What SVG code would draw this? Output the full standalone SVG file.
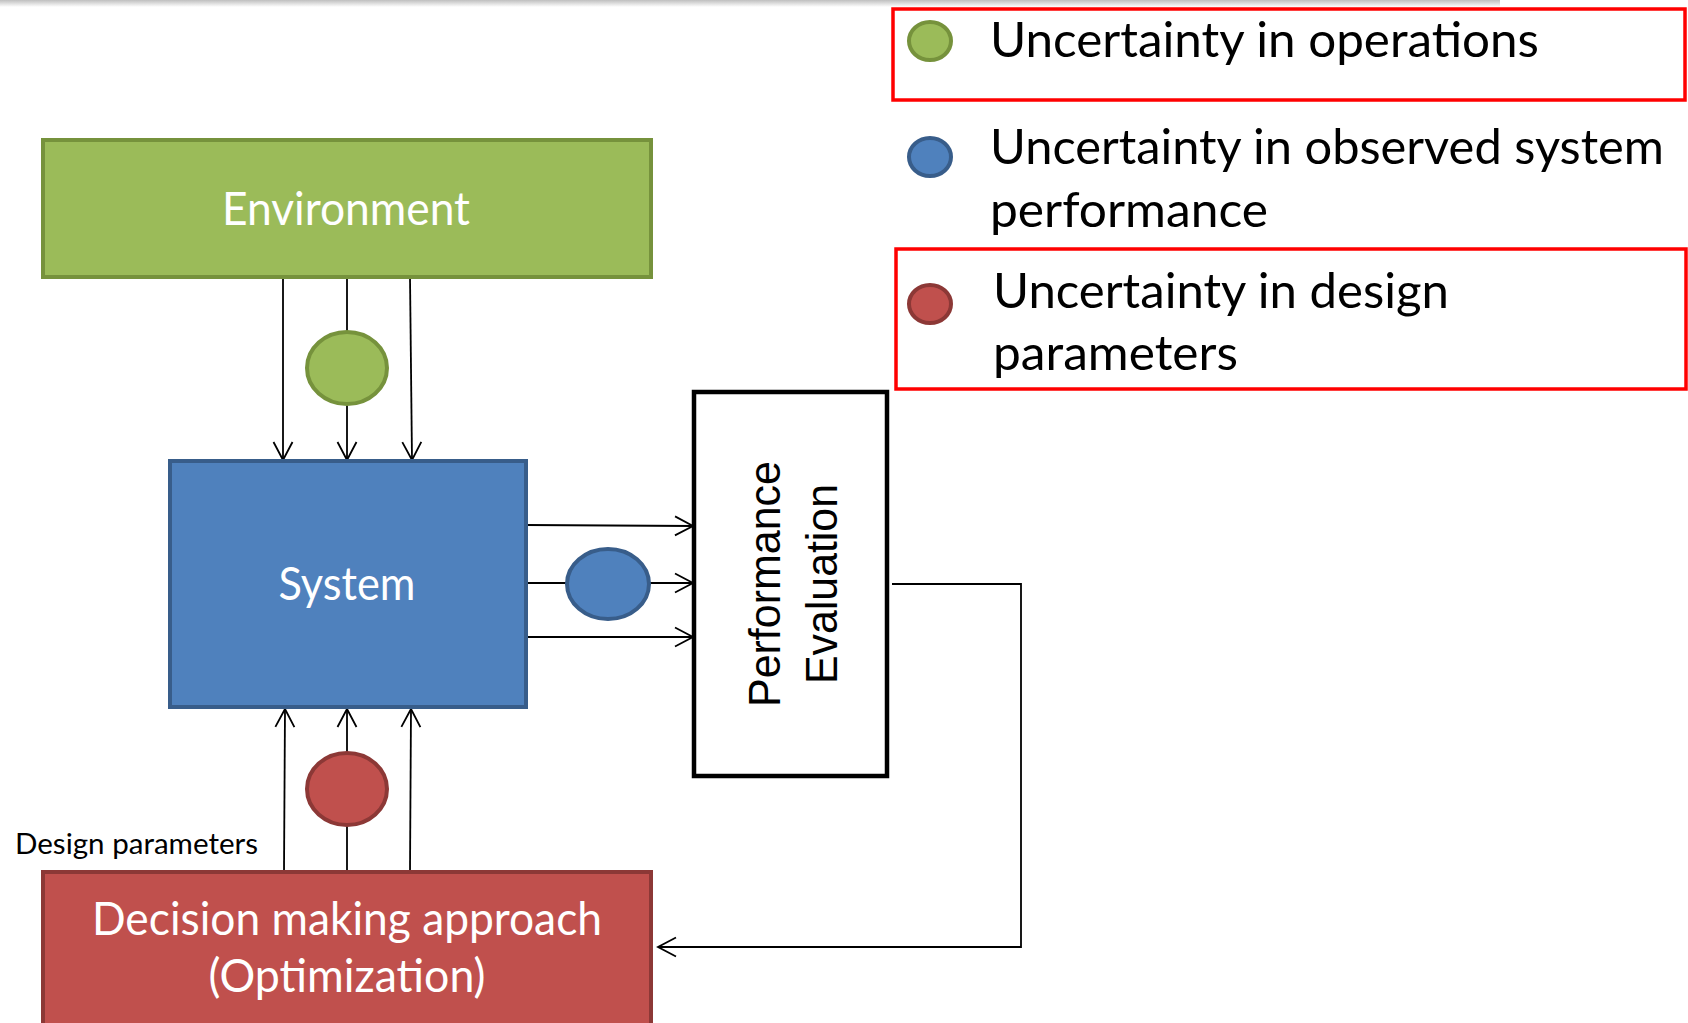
<svg xmlns="http://www.w3.org/2000/svg" width="1688" height="1023" viewBox="0 0 1688 1023">
<style>
.cal{font-family:Lato,"Open Sans","Liberation Sans",sans-serif;}
.wt{fill:#FFFFFF;text-anchor:middle;}
.bk{fill:#000000;}
.conn{stroke:#000000;stroke-width:1.8;fill:none;}
.leg{fill:none;stroke:#FF0000;stroke-width:3.5;}
</style>
<defs>
<marker id="ah" viewBox="-20 -12 24 24" markerWidth="24" markerHeight="24" refX="0" refY="0" orient="auto" markerUnits="userSpaceOnUse">
<path d="M-18,-9.5 L0,0 L-18,9.5" fill="none" stroke="#000" stroke-width="1.8"/>
</marker>
<linearGradient id="topg" x1="0" y1="0" x2="0" y2="1">
<stop offset="0" stop-color="#BFBFBF"/>
<stop offset="1" stop-color="#FFFFFF"/>
</linearGradient>
</defs>
<rect x="0" y="0" width="1688" height="1023" fill="#FFFFFF"/>
<rect x="0" y="0" width="1500" height="7" fill="url(#topg)"/>

<g id="connectors">
<line class="conn" x1="283" y1="277" x2="283" y2="460" marker-end="url(#ah)"/>
<line class="conn" x1="347" y1="277" x2="347" y2="460" marker-end="url(#ah)"/>
<line class="conn" x1="410" y1="277" x2="412" y2="460" marker-end="url(#ah)"/>
<line class="conn" x1="526" y1="525" x2="693" y2="526" marker-end="url(#ah)"/>
<line class="conn" x1="526" y1="583" x2="693" y2="583" marker-end="url(#ah)"/>
<line class="conn" x1="526" y1="637" x2="693" y2="637" marker-end="url(#ah)"/>
<line class="conn" x1="284" y1="872" x2="285" y2="709" marker-end="url(#ah)"/>
<line class="conn" x1="347" y1="872" x2="347" y2="709" marker-end="url(#ah)"/>
<line class="conn" x1="410" y1="872" x2="411" y2="709" marker-end="url(#ah)"/>
<polyline class="conn" points="892,584 1021,584 1021,947 658,947" marker-end="url(#ah)"/>
</g>

<g id="environment">
<rect x="43" y="140" width="608" height="137" fill="#9BBB59" stroke="#76923C" stroke-width="4"/>
<text class="cal wt" x="346" y="225" font-size="46" textLength="248" lengthAdjust="spacingAndGlyphs">Environment</text>
</g>

<g id="system">
<rect x="170" y="461" width="356" height="246" fill="#4F81BD" stroke="#385D8A" stroke-width="4"/>
<text class="cal wt" x="347" y="600" font-size="46" textLength="137" lengthAdjust="spacingAndGlyphs">System</text>
</g>

<g id="performance-evaluation">
<rect x="694" y="392" width="193" height="384" fill="#FFFFFF" stroke="#000000" stroke-width="4.5"/>
<text font-family="'Liberation Sans',Arial,sans-serif" font-size="44" fill="#000" text-anchor="middle" transform="translate(780,584) rotate(-90)" textLength="246" lengthAdjust="spacingAndGlyphs">Performance</text>
<text font-family="'Liberation Sans',Arial,sans-serif" font-size="44" fill="#000" text-anchor="middle" transform="translate(837,584) rotate(-90)" textLength="200" lengthAdjust="spacingAndGlyphs">Evaluation</text>
</g>

<g id="decision">
<rect x="43" y="872" width="608" height="160" fill="#C0504D" stroke="#8C3836" stroke-width="4"/>
<text class="cal wt" x="347" y="935" font-size="46" textLength="510" lengthAdjust="spacingAndGlyphs">Decision making approach</text>
<text class="cal wt" x="347" y="992" font-size="46" textLength="277" lengthAdjust="spacingAndGlyphs">(Optimization)</text>
</g>

<g id="design-parameters-label">
<text class="cal bk" x="15" y="854" font-size="29" textLength="243" lengthAdjust="spacingAndGlyphs">Design parameters</text>
</g>

<g id="uncertainty-operations-node">
<ellipse cx="347" cy="368" rx="40" ry="36" fill="#9BBB59" stroke="#76923C" stroke-width="4"/>
</g>
<g id="uncertainty-performance-node">
<ellipse cx="608" cy="584" rx="41" ry="35" fill="#4F81BD" stroke="#385D8A" stroke-width="4"/>
</g>
<g id="uncertainty-design-node">
<ellipse cx="347" cy="789" rx="40" ry="36" fill="#C0504D" stroke="#8C3836" stroke-width="4"/>
</g>

<g id="legend">
<rect class="leg" x="893" y="9" width="792" height="91"/>
<ellipse cx="930" cy="41" rx="21" ry="19" fill="#9BBB59" stroke="#76923C" stroke-width="4"/>
<text class="cal bk" x="990" y="57" font-size="49" textLength="549" lengthAdjust="spacingAndGlyphs">Uncertainty in operations</text>

<ellipse cx="930" cy="157" rx="21" ry="19" fill="#4F81BD" stroke="#385D8A" stroke-width="4"/>
<text class="cal bk" x="990" y="164" font-size="48" textLength="674" lengthAdjust="spacingAndGlyphs">Uncertainty in observed system</text>
<text class="cal bk" x="990" y="227" font-size="49" textLength="278" lengthAdjust="spacingAndGlyphs">performance</text>

<rect class="leg" x="896" y="249" width="790" height="140"/>
<ellipse cx="930" cy="304" rx="21" ry="19" fill="#C0504D" stroke="#8C3836" stroke-width="4"/>
<text class="cal bk" x="993" y="308" font-size="49" textLength="456" lengthAdjust="spacingAndGlyphs">Uncertainty in design</text>
<text class="cal bk" x="993" y="370" font-size="49" textLength="245" lengthAdjust="spacingAndGlyphs">parameters</text>
</g>
</svg>
